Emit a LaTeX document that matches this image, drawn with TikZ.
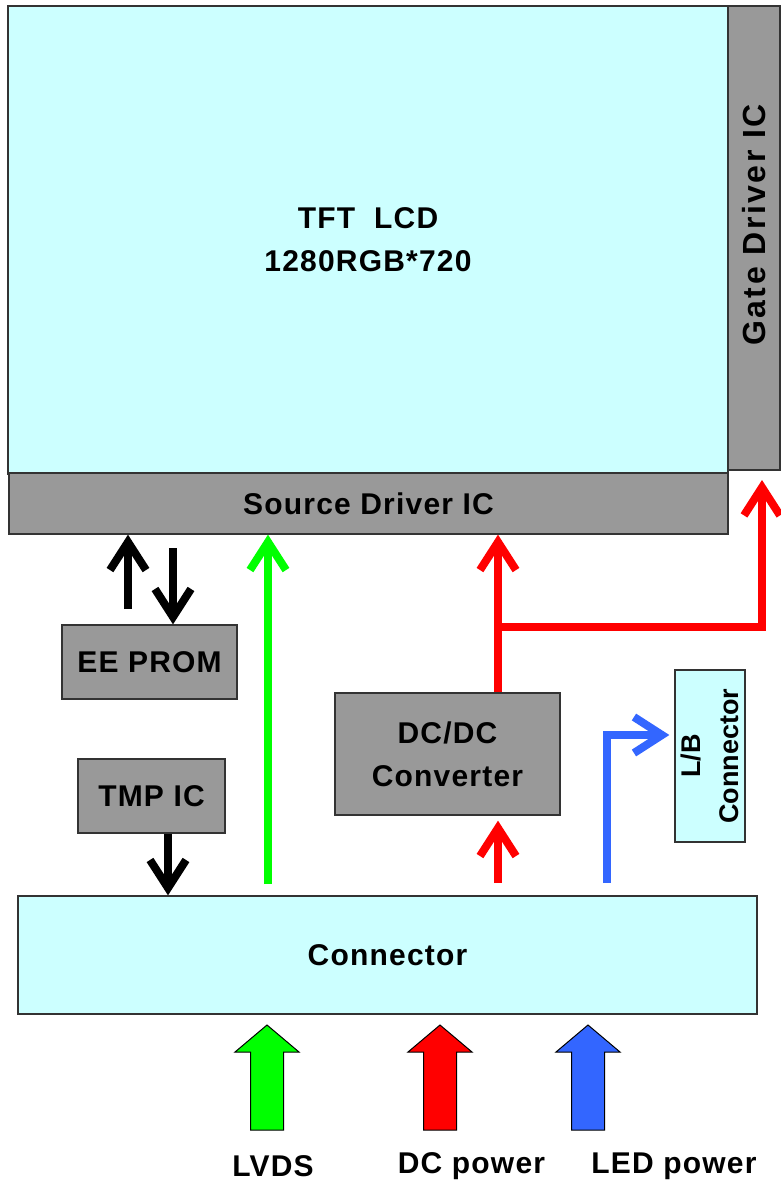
\documentclass[tikz,border=0pt]{standalone}
\usepackage{fontspec}
\setmainfont{Liberation Sans}
\newfontfamily\spaced[LetterSpace=4]{Liberation Sans}
\newfontfamily\widespaced[LetterSpace=8]{Liberation Sans}
\usetikzlibrary{arrows.meta}
\definecolor{lcd}{HTML}{CCFFFF}
\definecolor{ic}{HTML}{999999}
\definecolor{gr}{HTML}{00FF00}
\definecolor{rd}{HTML}{FF0000}
\definecolor{bl}{HTML}{3366FF}
\definecolor{edge}{HTML}{333333}
\begin{document}
\begin{tikzpicture}[x=1pt,y=-1pt,
  box/.style={draw=edge, line width=1.3pt, inner sep=0pt, align=center,
    font=\spaced\bfseries\fontsize{30}{43}\selectfont},
  cy/.style={box, fill=lcd},
  gy/.style={box, fill=ic},
  wire/.style={line width=8pt, -{Straight Barb[length=28pt,width=36pt]}},
  barrow/.style={draw=black, line width=1pt, line join=miter},
  lab/.style={font=\spaced\bfseries\fontsize{30}{36}\selectfont, inner sep=0pt}]
\useasboundingbox (0,0) rectangle (781,1187);

% boxes
\node[cy, minimum width=720, minimum height=468] (tft) at (368,240) {TFT\ \ LCD\\1280RGB*720};
\node[gy, rotate=90, minimum width=464, minimum height=52,
  font=\widespaced\bfseries\fontsize{32}{40}\selectfont] (gate) at (754,238) {\hspace*{26pt}Gate Driver IC};
\node[gy, minimum width=719, minimum height=61] (src) at (368.5,503.5) {Source Driver IC};
\node[gy, minimum width=175, minimum height=74] (ee) at (149.5,662) {EE PROM};
\node[gy, minimum width=147, minimum height=74] (tmp) at (151.5,796) {TMP IC};
\node[gy, minimum width=225, minimum height=122] (dc) at (447.5,754) {DC/DC\\Converter};
\node[cy, rotate=90, minimum width=172, minimum height=70,
  font=\bfseries\fontsize{27}{38}\selectfont] (lb) at (710,756) {L/B\\Connector};
\node[cy, minimum width=739, minimum height=118] (conn) at (387.5,955) {Connector};

% free ends
\coordinate (e1) at (128,609);
\coordinate (e2) at (173,548);
\coordinate (t1) at (168,0);
\coordinate (g1) at (268,884);
\coordinate (r1) at (498,883);
\coordinate (rb) at (0,627);
\coordinate (gt) at (762,480);
\coordinate (b1) at (607,883);
\coordinate (b2) at (0,735);

% connectors
\draw[wire] (e1) -- (e1 |- src.south);
\draw[wire] (e2) -- (e2 |- ee.north);
\draw[wire] (tmp.south -| t1) -- (conn.north -| t1);
\draw[wire, gr] (g1) -- (g1 |- src.south);
\draw[wire, rd] (r1) -- ([yshift=-5pt]r1 |- dc.south);
\draw[wire, rd] (dc.north -| r1) -- (r1 |- src.south);
\draw[wire, rd, line join=miter] (r1 |- rb) -| (gt);
\draw[wire, bl, line join=miter] (b1) |- ([xshift=-5pt]lb.north |- b2);

% input block arrows
\foreach \cx/\col in {267/gr, 440/rd, 588/bl}{
  \draw[barrow, fill=\col] (\cx,1025) -- (\cx+32,1052) -- (\cx+16.5,1052)
    -- (\cx+16.5,1130) -- (\cx-16.5,1130) -- (\cx-16.5,1052) -- (\cx-32,1052) -- cycle;
}
\node[lab] (lvds) at (273,1166) {LVDS};
\node[lab] (dcp) at (471.5,1166) {DC power};
\node[lab] (ledp) at (674,1166) {LED power};
\end{tikzpicture}
\end{document}
